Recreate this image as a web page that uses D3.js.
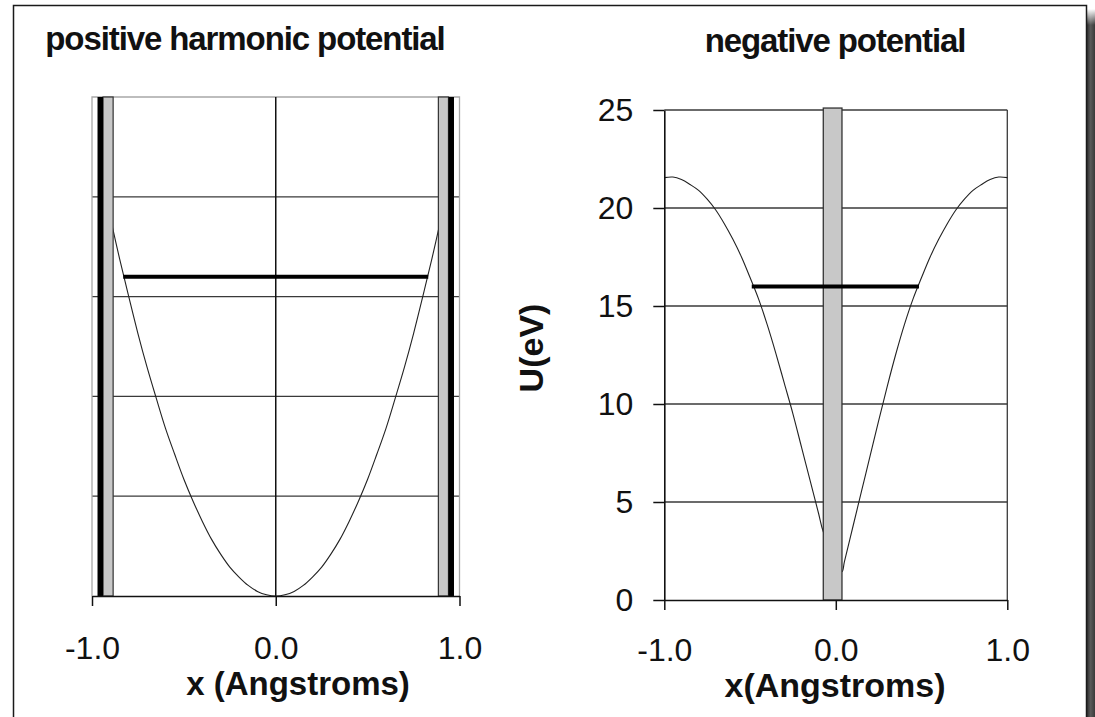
<!DOCTYPE html>
<html>
<head>
<meta charset="utf-8">
<script src="https://cdn.jsdelivr.net/npm/d3@7"></script>
<style>
  html, body { margin: 0; padding: 0; background: #fff; }
  svg { display: block; font-family: "Liberation Sans", Arial, sans-serif; }
</style>
</head>
<body>
<svg id="chart" width="1095" height="717"></svg>
<script>
// ---- data ----
const xTickValues = [-1, 0, 1];
const xTickLabels = ["-1.0", "0.0", "1.0"];
const yTickValues = [0, 5, 10, 15, 20, 25];
const yTickLabels = ["0", "5", "10", "15", "20", "25"];

// harmonic well U(x) in eV
const harmonicX = [-0.9, -0.85, -0.8, -0.75, -0.7, -0.65, -0.6, -0.55, -0.5, -0.45, -0.4, -0.35, -0.3, -0.25, -0.2, -0.15, -0.1, -0.05, 0,
                   0.05, 0.1, 0.15, 0.2, 0.25, 0.3, 0.35, 0.4, 0.45, 0.5, 0.55, 0.6, 0.65, 0.7, 0.75, 0.8, 0.85, 0.9];
const harmonicU = [18.95, 16.9, 15.0, 13.15, 11.45, 9.9, 8.4, 7.1, 5.85, 4.75, 3.75, 2.85, 2.1, 1.45, 0.95, 0.53, 0.23, 0.06, 0,
                   0.06, 0.23, 0.53, 0.95, 1.45, 2.1, 2.85, 3.75, 4.75, 5.85, 7.1, 8.4, 9.9, 11.45, 13.15, 15.0, 16.9, 18.95];

// negative potential U(x) in eV
const negX = [-1.0, -0.95, -0.9, -0.85, -0.8, -0.75, -0.7, -0.65, -0.6, -0.55, -0.5, -0.45, -0.4, -0.35, -0.3, -0.25, -0.2, -0.15, -0.1, -0.073,
              0.036, 0.05, 0.1, 0.15, 0.2, 0.25, 0.3, 0.35, 0.4, 0.45, 0.5, 0.55, 0.6, 0.65, 0.7, 0.75, 0.8, 0.85, 0.9, 0.95, 1.0];
const negU = [21.55, 21.58, 21.45, 21.2, 20.9, 20.45, 19.9, 19.2, 18.4, 17.5, 16.45, 15.35, 14.05, 12.6, 11.05, 9.5, 7.8, 6.1, 4.4, 3.48,
              1.45, 1.95, 3.75, 5.55, 7.35, 9.15, 10.9, 12.55, 14.05, 15.35, 16.45, 17.5, 18.4, 19.2, 19.9, 20.45, 20.9, 21.2, 21.45, 21.58, 21.55];

// energy level (eV) and its extent in x
const leftEnergy = 16;
const leftEnergyRange = [-0.83, 0.83];
const rightEnergy = 16;
const rightEnergyRange = [-0.49, 0.485];

// walls: [x0, x1, U]
const leftBlackWalls = [[-0.97, -0.94, 25], [0.94, 0.97, 25]];
const leftGreyWalls = [[-0.94, -0.885, 25], [0.885, 0.94, 25]];
const rightGreyWalls = [[-0.073, 0.036, 25.1]];

// ---- drawing ----
const svg = d3.select("#chart");
const ink = "#222";
const gridInk = "#3a3a3a";
const fontFamily = "Liberation Sans, Arial, sans-serif";

// outer frame with drop shadow on the right
const defs = svg.append("defs");
const shadowH = defs.append("linearGradient").attr("id", "shadowH").attr("x1", 0).attr("x2", 1).attr("y1", 0).attr("y2", 0);
shadowH.append("stop").attr("offset", "0%").attr("stop-color", "#2e2e2e");
shadowH.append("stop").attr("offset", "45%").attr("stop-color", "#5a5a5a");
shadowH.append("stop").attr("offset", "100%").attr("stop-color", "#3a3a3a");
const shadowV = defs.append("linearGradient").attr("id", "shadowV").attr("x1", 0).attr("x2", 0).attr("y1", 0).attr("y2", 1);
shadowV.append("stop").attr("offset", "0%").attr("stop-color", "#fff").attr("stop-opacity", 1);
shadowV.append("stop").attr("offset", "100%").attr("stop-color", "#fff").attr("stop-opacity", 0);

svg.append("rect").attr("x", 1087).attr("y", 9).attr("width", 8).attr("height", 708).attr("fill", "url(#shadowH)");
svg.append("rect").attr("x", 1087).attr("y", 9).attr("width", 8).attr("height", 16).attr("fill", "url(#shadowV)");
svg.append("rect").attr("x", 13.5).attr("y", 5.5).attr("width", 1073).attr("height", 730)
  .attr("fill", "none").attr("stroke", "#1a1a1a").attr("stroke-width", 1.5);

// ---------- left panel: positive harmonic potential ----------
const xL = d3.scaleLinear().domain([-1, 1]).range([92, 459.5]);
const yL = d3.scaleLinear().domain([0, 25]).range([596, 97]);
const gL = svg.append("g");

// horizontal grid
gL.append("g").selectAll("line").data(yTickValues.filter(v => v > 0 && v < 25)).join("line")
  .attr("x1", xL(-1)).attr("x2", xL(1)).attr("y1", d => yL(d)).attr("y2", d => yL(d))
  .attr("stroke", gridInk).attr("stroke-width", 1.3);
// light plot border (top, left, right)
gL.append("path")
  .attr("d", `M${xL(-1)},${yL(0)}V${yL(25)}H${xL(1)}V${yL(0)}`)
  .attr("fill", "none").attr("stroke", "#a8a8a8").attr("stroke-width", 1.3);
// vertical line at x = 0
gL.append("line").attr("x1", xL(0)).attr("x2", xL(0)).attr("y1", yL(25)).attr("y2", yL(0))
  .attr("stroke", "#111").attr("stroke-width", 1.5);

// potential curve
const lineL = d3.line().x(d => xL(d[0])).y(d => yL(d[1])).curve(d3.curveCatmullRom.alpha(0.5));
gL.append("path").datum(d3.zip(harmonicX, harmonicU))
  .attr("d", lineL).attr("fill", "none").attr("stroke", ink).attr("stroke-width", 1.1);

// walls
gL.append("g").selectAll("rect").data(leftGreyWalls).join("rect")
  .attr("x", d => xL(d[0])).attr("width", d => xL(d[1]) - xL(d[0]))
  .attr("y", d => yL(d[2])).attr("height", d => yL(0) - yL(d[2]))
  .attr("fill", "#c8c8c8").attr("stroke", "#333").attr("stroke-width", 1.2);
gL.append("g").selectAll("rect").data(leftBlackWalls).join("rect")
  .attr("x", d => xL(d[0])).attr("width", d => xL(d[1]) - xL(d[0]))
  .attr("y", d => yL(d[2])).attr("height", d => yL(0) - yL(d[2]))
  .attr("fill", "#000");

// energy level
gL.append("line").attr("x1", xL(leftEnergyRange[0])).attr("x2", xL(leftEnergyRange[1]))
  .attr("y1", yL(leftEnergy)).attr("y2", yL(leftEnergy))
  .attr("stroke", "#000").attr("stroke-width", 4);

// x axis
const axL = gL.append("g").attr("transform", `translate(0,${yL(0)})`)
  .call(d3.axisBottom(xL).tickValues(xTickValues).tickFormat((d, i) => xTickLabels[i]).tickSize(10).tickSizeOuter(0).tickPadding(30));
axL.select(".domain").attr("stroke", "#111").attr("stroke-width", 1.6);
axL.selectAll(".tick line").attr("stroke", "#111").attr("stroke-width", 1.5);
axL.selectAll(".tick text").attr("fill", "#111").attr("font-size", 32).attr("font-family", fontFamily);

// titles
svg.append("text").attr("x", 245).attr("y", 50).attr("text-anchor", "middle")
  .attr("font-size", 33).attr("letter-spacing", -1.1).attr("font-weight", "bold").attr("fill", "#111")
  .text("positive harmonic potential");
svg.append("text").attr("x", 298).attr("y", 695).attr("text-anchor", "middle")
  .attr("font-size", 33).attr("font-weight", "bold").attr("fill", "#111").text("x (Angstroms)");

// ---------- right panel: negative potential ----------
const xR = d3.scaleLinear().domain([-1, 1]).range([664.3, 1007.3]);
const yR = d3.scaleLinear().domain([0, 25]).range([600, 110]);
const gR = svg.append("g");

gR.append("g").selectAll("line").data(yTickValues.filter(v => v > 0)).join("line")
  .attr("x1", xR(-1)).attr("x2", xR(1)).attr("y1", d => yR(d)).attr("y2", d => yR(d))
  .attr("stroke", gridInk).attr("stroke-width", 1.3);
gR.append("line").attr("x1", xR(1)).attr("x2", xR(1)).attr("y1", yR(25)).attr("y2", yR(0))
  .attr("stroke", gridInk).attr("stroke-width", 1.3);

const lineR = d3.line().x(d => xR(d[0])).y(d => yR(d[1])).curve(d3.curveCatmullRom.alpha(0.5));
gR.append("path").datum(d3.zip(negX, negU))
  .attr("d", lineR).attr("fill", "none").attr("stroke", ink).attr("stroke-width", 1.1);

gR.append("g").selectAll("rect").data(rightGreyWalls).join("rect")
  .attr("x", d => xR(d[0])).attr("width", d => xR(d[1]) - xR(d[0]))
  .attr("y", d => yR(d[2])).attr("height", d => yR(0) - yR(d[2]))
  .attr("fill", "#c8c8c8").attr("stroke", "#333").attr("stroke-width", 1.3);

gR.append("line").attr("x1", xR(rightEnergyRange[0])).attr("x2", xR(rightEnergyRange[1]))
  .attr("y1", yR(rightEnergy)).attr("y2", yR(rightEnergy))
  .attr("stroke", "#000").attr("stroke-width", 4);

const axRx = gR.append("g").attr("transform", `translate(0,${yR(0)})`)
  .call(d3.axisBottom(xR).tickValues(xTickValues).tickFormat((d, i) => xTickLabels[i]).tickSize(10).tickSizeOuter(0).tickPadding(28));
axRx.select(".domain").attr("stroke", "#111").attr("stroke-width", 1.6);
axRx.selectAll(".tick line").attr("stroke", "#111").attr("stroke-width", 1.5);
axRx.selectAll(".tick text").attr("fill", "#111").attr("font-size", 32).attr("font-family", fontFamily);

const axRy = gR.append("g").attr("transform", `translate(${xR(-1)},0)`)
  .call(d3.axisLeft(yR).tickValues(yTickValues).tickFormat((d, i) => yTickLabels[i]).tickSize(11).tickSizeOuter(0).tickPadding(20));
axRy.select(".domain").attr("stroke", "#111").attr("stroke-width", 1.6);
axRy.selectAll(".tick line").attr("stroke", "#111").attr("stroke-width", 1.5);
axRy.selectAll(".tick text").attr("fill", "#111").attr("font-size", 32).attr("font-family", fontFamily);

svg.append("text").attr("x", 835).attr("y", 52).attr("text-anchor", "middle")
  .attr("font-size", 33).attr("letter-spacing", -1.1).attr("font-weight", "bold").attr("fill", "#111")
  .text("negative potential");
svg.append("text").attr("x", 835).attr("y", 697).attr("text-anchor", "middle")
  .attr("font-size", 34).attr("font-weight", "bold").attr("fill", "#111").text("x(Angstroms)");
svg.append("text").attr("transform", "translate(543,348) rotate(-90)").attr("text-anchor", "middle")
  .attr("font-size", 34).attr("font-weight", "bold").attr("fill", "#111").text("U(eV)");
</script>
</body>
</html>
